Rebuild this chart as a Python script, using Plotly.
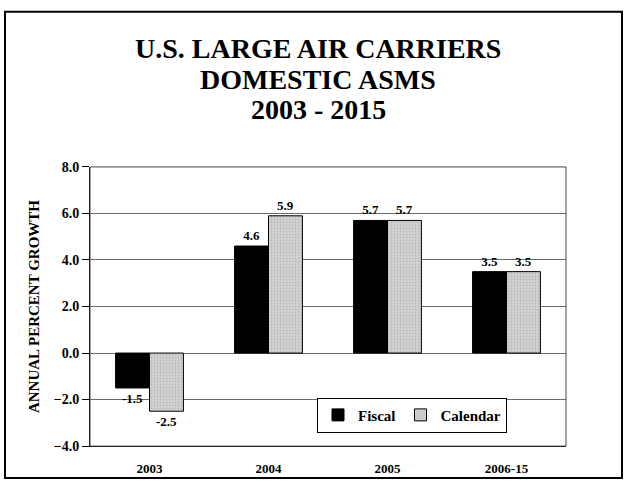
import plotly.graph_objects as go

# Data
periods = ['2003', '2004', '2005', '2006-15']
fiscal = [-1.5, 4.6, 5.7, 3.5]
calendar = [-2.5, 5.9, 5.7, 3.5]
y_ticks = [-4.0, -2.0, 0.0, 2.0, 4.0, 6.0, 8.0]
title_lines = ['U.S. LARGE AIR CARRIERS', 'DOMESTIC ASMS', '2003 - 2015']

W, H = 628, 489
serif = "Liberation Serif"

fig = go.Figure()
fig.add_trace(go.Bar(
    name='Fiscal', x=periods, y=fiscal,
    marker=dict(color='black', line=dict(color='black', width=1)),
    text=[f"{v:.1f}" for v in fiscal], textposition='outside',
    textfont=dict(size=13, color='black', family=serif, weight='bold'),
    cliponaxis=False,
))
fig.add_trace(go.Bar(
    name='Calendar', x=periods, y=calendar,
    marker=dict(color='#d0d0d0', line=dict(color='black', width=1),
                pattern=dict(shape='.', fgcolor='#9a9a9a', bgcolor='#d4d4d4', size=3, solidity=0.3)),
    text=[f"{v:.1f}" for v in calendar], textposition='outside',
    textfont=dict(size=13, color='black', family=serif, weight='bold'),
    cliponaxis=False,
))

# plot area in pixels: x 90..566, y 165..453
x0, x1 = 90 / W, 566 / W
y0, y1 = (H - 453) / H, (H - 165) / H

title_ann = [
    dict(text=t, x=318 / W, y=(H - yp) / H, xref='paper', yref='paper',
         xanchor='center', yanchor='middle', showarrow=False,
         font=dict(size=28, family=serif, color='black', weight='bold'))
    for t, yp in zip(title_lines, [43, 75, 106])
]

fig.update_layout(
    autosize=True,
    margin=dict(l=0, r=0, t=0, b=0),
    paper_bgcolor='white', plot_bgcolor='white',
    font=dict(family=serif, color='black'),
    barmode='group', bargap=0.43, bargroupgap=0,
    showlegend=True,
    legend=dict(
        orientation='h', x=317 / W, y=(H - 403) / H, xanchor='left', yanchor='top',
        bgcolor='white', bordercolor='black', borderwidth=1,
        font=dict(size=15, family=serif, color='black', weight='bold'),
        itemwidth=30, tracegroupgap=0,
    ),
    xaxis=dict(
        domain=[x0, x1], showgrid=False, showline=True, linecolor='black', linewidth=1,
        tickfont=dict(size=13, family=serif, weight='bold'), ticks='', ticklabelstandoff=10,
    ),
    yaxis=dict(
        domain=[y0, y1], range=[-4, 8], tickvals=y_ticks, tickformat='.1f',
        showgrid=True, gridcolor='#6a6a6a', gridwidth=1, zeroline=False,
        showline=True, linecolor='black', linewidth=1, ticks='outside', ticklen=7,
        tickcolor='black',
        tickfont=dict(size=14, family=serif, weight='bold'),
        title=dict(text='ANNUAL PERCENT GROWTH', standoff=10,
                   font=dict(size=15, family=serif, weight='bold')),
    ),
    annotations=title_ann,
    shapes=[
        # outer frame
        dict(type='rect', xref='paper', yref='paper',
             x0=5 / W, x1=622 / W, y0=3 / H, y1=(H - 5) / H,
             line=dict(color='black', width=2)),
        # plot frame
        dict(type='rect', xref='paper', yref='paper',
             x0=x0, x1=x1, y0=y0, y1=y1,
             line=dict(color='#444444', width=1)),
    ],
)

fig.write_html("out.html", config={'displayModeBar': False},
               default_width='100vw', default_height='100vh',
               post_script="document.body.style.margin='0px';document.body.style.overflow='hidden';"
                           "Plotly.Plots.resize(document.getElementById('{plot_id}'));")
